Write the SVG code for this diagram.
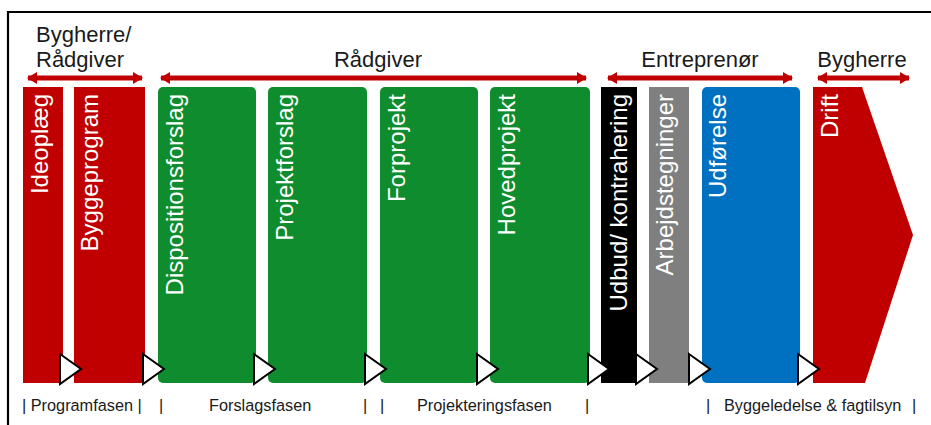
<svg xmlns="http://www.w3.org/2000/svg" width="931" height="425" viewBox="0 0 931 425">
<style>
.lbl{font-family:"Liberation Sans",Arial,sans-serif;font-size:22px;fill:#1a1a1a}
.vt{font-family:"Liberation Sans",Arial,sans-serif;font-size:24px;fill:#ffffff;text-anchor:end}
.ph{font-family:"Liberation Sans",Arial,sans-serif;font-size:16.3px;fill:#1a1a1a}
.red{fill:#C00000}
.grn{fill:#0E8C2E}
.blu{fill:#0070C0}
.gry{fill:#7F7F7F}
.blk{fill:#000000}
.span{stroke:#C00000;stroke-width:5;fill:none}
.tri{fill:#ffffff;stroke:#000000;stroke-width:2;stroke-linejoin:miter}
</style>
<defs>
<marker id="ah" viewBox="0 0 10 12" refX="9" refY="6" markerWidth="10" markerHeight="12" markerUnits="userSpaceOnUse" orient="auto-start-reverse">
<path d="M0,0 L10,6 L0,12 Z" fill="#C00000"/>
</marker>
<polygon id="tr" points="0,0 21,15 0,30"/>
</defs>
<rect width="931" height="425" fill="#ffffff"/>
<path d="M8,440 V12 H945" fill="none" stroke="#000000" stroke-width="2.2"/>

<g id="roles">
<text class="lbl" x="36" y="42">Bygherre/</text>
<text class="lbl" x="36" y="67">Rådgiver</text>
<text class="lbl" x="378" y="67" text-anchor="middle">Rådgiver</text>
<text class="lbl" x="700" y="67" text-anchor="middle">Entreprenør</text>
<text class="lbl" x="862" y="67" text-anchor="middle">Bygherre</text>
</g>

<g id="connectors">
<line class="span" x1="28" y1="78" x2="142" y2="78" marker-start="url(#ah)" marker-end="url(#ah)"/>
<line class="span" x1="161" y1="78" x2="586" y2="78" marker-start="url(#ah)" marker-end="url(#ah)"/>
<line class="span" x1="608" y1="78" x2="792" y2="78" marker-start="url(#ah)" marker-end="url(#ah)"/>
<line class="span" x1="818" y1="78" x2="909" y2="78" marker-start="url(#ah)" marker-end="url(#ah)"/>
</g>

<g id="ideoplaeg"><rect class="red" x="23" y="87" width="40" height="296"/><text class="vt" transform="translate(48,94) rotate(-90)">Ideoplæg</text></g>
<g id="byggeprogram"><rect class="red" x="74" y="87" width="71" height="296"/><text class="vt" transform="translate(98,94) rotate(-90)">Byggeprogram</text></g>
<g id="dispositionsforslag"><rect class="grn" x="158" y="87" width="98" height="296" rx="5"/><text class="vt" transform="translate(183,94) rotate(-90)">Dispositionsforslag</text></g>
<g id="projektforslag"><rect class="grn" x="268" y="87" width="99" height="296" rx="5"/><text class="vt" transform="translate(293,94) rotate(-90)">Projektforslag</text></g>
<g id="forprojekt"><rect class="grn" x="380" y="87" width="98" height="296" rx="5"/><text class="vt" transform="translate(405,94) rotate(-90)">Forprojekt</text></g>
<g id="hovedprojekt"><rect class="grn" x="490" y="87" width="100" height="296" rx="5"/><text class="vt" transform="translate(515,94) rotate(-90)">Hovedprojekt</text></g>
<g id="udbud"><rect class="blk" x="601" y="87" width="36" height="296"/><text class="vt" transform="translate(627,94) rotate(-90)">Udbud/ kontrahering</text></g>
<g id="arbejdstegninger"><rect class="gry" x="649" y="87" width="40" height="296"/><text class="vt" transform="translate(673,94) rotate(-90)">Arbejdstegninger</text></g>
<g id="udfoerelse"><rect class="blu" x="702" y="87" width="98" height="296" rx="5"/><text class="vt" transform="translate(726,94) rotate(-90)">Udførelse</text></g>
<g id="drift"><polygon class="red" points="813,87 862,87 913,235 865,383 813,383"/><text class="vt" transform="translate(838,94) rotate(-90)">Drift</text></g>

<g id="transitions" class="tri">
<use href="#tr" x="60" y="354"/>
<use href="#tr" x="143" y="354"/>
<use href="#tr" x="254" y="354"/>
<use href="#tr" x="365" y="354"/>
<use href="#tr" x="477" y="354"/>
<use href="#tr" x="588" y="354"/>
<use href="#tr" x="636" y="354"/>
<use href="#tr" x="689" y="354"/>
<use href="#tr" x="798" y="354"/>
</g>

<g id="phases">
<text class="ph" x="22" y="411">| Programfasen |</text>
<text class="ph" x="159" y="411">|</text>
<text class="ph" x="209" y="411">Forslagsfasen</text>
<text class="ph" x="363" y="411">|</text>
<text class="ph" x="380" y="411">|</text>
<text class="ph" x="417" y="411">Projekteringsfasen</text>
<text class="ph" x="585" y="411">|</text>
<text class="ph" x="706" y="411">|</text>
<text class="ph" x="724" y="411">Byggeledelse &amp; fagtilsyn</text>
<text class="ph" x="912" y="411">|</text>
</g>
</svg>
